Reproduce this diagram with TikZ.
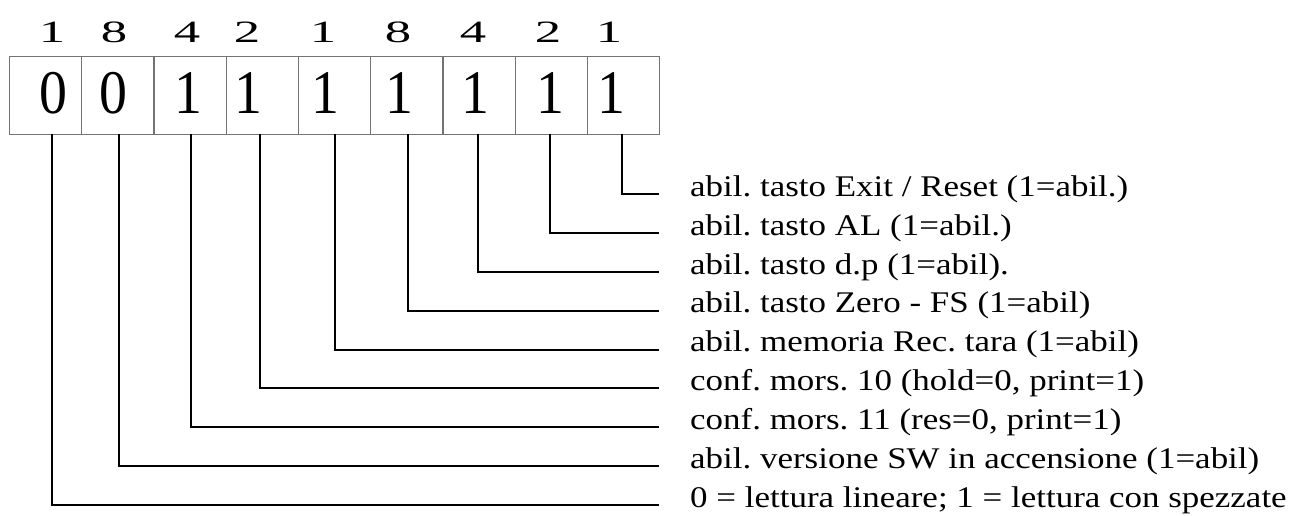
\documentclass[tikz,border=0pt]{standalone}
\usepackage{fontspec}
\setmainfont{Liberation Serif}
\newcommand{\stretchdesc}[1]{\scalebox{1.165}[1]{#1}}
\newcommand{\stretchweight}[1]{\scalebox{1.7}[1]{#1}}
\newcommand{\squeezebit}[1]{\scalebox{0.9}[1]{#1}}
\begin{document}
\frenchspacing
\begin{tikzpicture}[x=1pt,y=-1pt,
  cell/.style={draw=black!55, line width=1.2pt, minimum width=72.22pt, minimum height=78pt, inner sep=0pt, anchor=north west},
  bitval/.style={font=\fontsize{62}{62}\selectfont, anchor=base, inner sep=0pt},
  weight/.style={font=\fontsize{31}{31}\selectfont, anchor=base, inner sep=0pt},
  desc/.style={font=\fontsize{30}{30}\selectfont, anchor=west, inner xsep=31pt, inner ysep=0pt, text height=0.7em, text depth=0.25em},
  conn/.style={line width=2pt, black}]
\useasboundingbox (0,0) rectangle (1293,516);
% cells
\foreach \i in {1,...,9} {
  \node[cell] (c\i) at ({9+72.22*(\i-1)},56) {};
}
% weights
\node[weight] (w1) at (52,43) {\stretchweight{1}};
\node[weight] (w2) at (114,43) {\stretchweight{8}};
\node[weight] (w3) at (187,43) {\stretchweight{4}};
\node[weight] (w4) at (247,43) {\stretchweight{2}};
\node[weight] (w5) at (323,43) {\stretchweight{1}};
\node[weight] (w6) at (398,43) {\stretchweight{8}};
\node[weight] (w7) at (473,43) {\stretchweight{4}};
\node[weight] (w8) at (548,43) {\stretchweight{2}};
\node[weight] (w9) at (609,43) {\stretchweight{1}};
% bit values
\node[bitval] (v1) at (53,114) {\squeezebit{0}};
\node[bitval] (v2) at (113,114) {\squeezebit{0}};
\node[bitval] (v3) at (188,114) {\squeezebit{1}};
\node[bitval] (v4) at (248,114) {\squeezebit{1}};
\node[bitval] (v5) at (325,114) {\squeezebit{1}};
\node[bitval] (v6) at (399,114) {\squeezebit{1}};
\node[bitval] (v7) at (475,114) {\squeezebit{1}};
\node[bitval] (v8) at (550,114) {\squeezebit{1}};
\node[bitval] (v9) at (611,114) {\squeezebit{1}};
% connector start points on the box bottom
\coordinate (p1) at (51.7,134);
\coordinate (p2) at (118.5,134);
\coordinate (p3) at (190.7,134);
\coordinate (p4) at (259.7,134);
\coordinate (p5) at (335.4,134);
\coordinate (p6) at (408,134);
\coordinate (p7) at (477.7,134);
\coordinate (p8) at (550,134);
\coordinate (p9) at (622,134);
% labels
\node[desc] (l1) at (659,194) {\stretchdesc{abil. tasto Exit / Reset (1=abil.)}};
\node[desc] (l2) at (659,232.9) {\stretchdesc{abil. tasto AL (1=abil.)}};
\node[desc] (l3) at (659,271.8) {\stretchdesc{abil. tasto d.p (1=abil).}};
\node[desc] (l4) at (659,310.6) {\stretchdesc{abil. tasto Zero - FS (1=abil)}};
\node[desc] (l5) at (659,349.5) {\stretchdesc{abil. memoria Rec. tara (1=abil)}};
\node[desc] (l6) at (659,388.4) {\stretchdesc{conf. mors. 10 (hold=0, print=1)}};
\node[desc] (l7) at (659,427.3) {\stretchdesc{conf. mors. 11 (res=0, print=1)}};
\node[desc] (l8) at (659,466.1) {\stretchdesc{abil. versione SW in accensione (1=abil)}};
\node[desc] (l9) at (659,505) {\stretchdesc{0 = lettura lineare; 1 = lettura con spezzate}};
% connectors
\draw[conn] (p9) |- (l1.west);
\draw[conn] (p8) |- (l2.west);
\draw[conn] (p7) |- (l3.west);
\draw[conn] (p6) |- (l4.west);
\draw[conn] (p5) |- (l5.west);
\draw[conn] (p4) |- (l6.west);
\draw[conn] (p3) |- (l7.west);
\draw[conn] (p2) |- (l8.west);
\draw[conn] (p1) |- (l9.west);
\end{tikzpicture}
\end{document}
